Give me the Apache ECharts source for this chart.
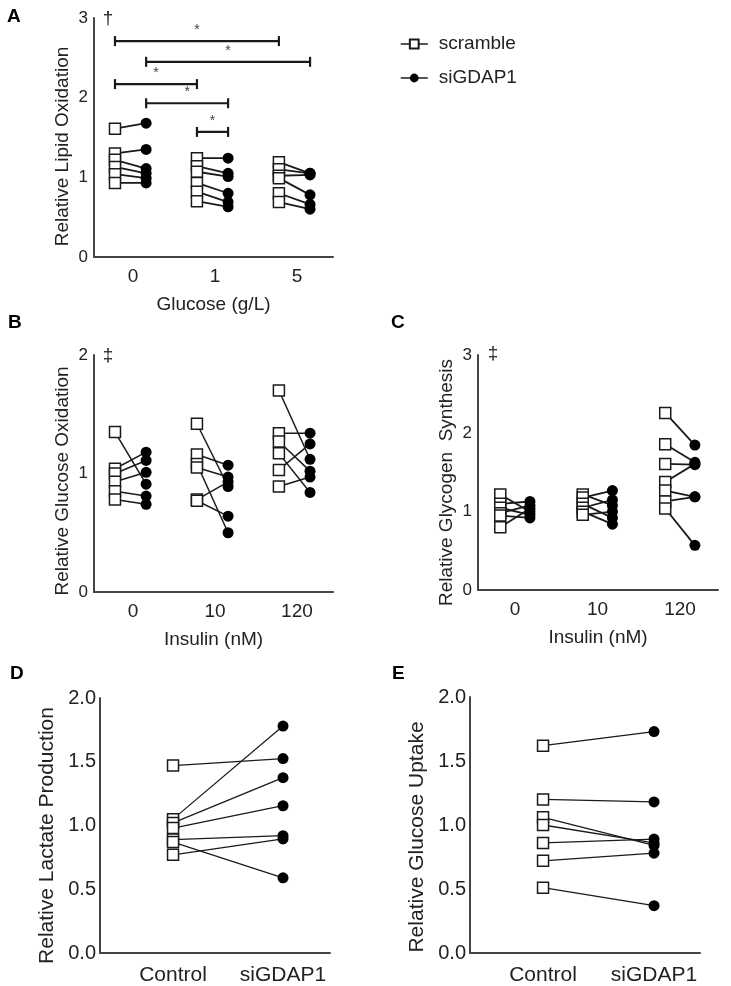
<!DOCTYPE html>
<html>
<head>
<meta charset="utf-8">
<script src="https://cdn.jsdelivr.net/npm/echarts@6/dist/echarts.min.js"></script>
<style>
html,body{margin:0;padding:0;background:#fff;}
#chart{width:731px;height:986px;}
</style>
</head>
<body>
<div id="chart"></div>
<script>
// ---------- DATA ----------
const glucoseLabels = ['0', '1', '5'];
const insulinLabels = ['0', '10', '120'];
const pairLabels = ['Control', 'siGDAP1'];

// Panel A: Relative Lipid Oxidation (paired by index within each glucose group)
const lipidScramble = [
  [1.61, 1.30, 1.22, 1.13, 1.04, 0.93],
  [1.24, 1.14, 1.07, 0.93, 0.82, 0.70],
  [1.19, 1.10, 1.02, 0.99, 0.80, 0.69]
];
const lipidSiGDAP1 = [
  [1.68, 1.35, 1.11, 1.05, 0.99, 0.93],
  [1.24, 1.05, 1.01, 0.80, 0.69, 0.63],
  [1.05, 1.05, 1.03, 0.78, 0.66, 0.60]
];
// significance brackets: [groupFrom, seriesFrom, groupTo, seriesTo, y]
const lipidBrackets = [
  [0, 'scramble', 2, 'scramble', 2.71],
  [0, 'siGDAP1', 2, 'siGDAP1', 2.45],
  [0, 'scramble', 1, 'scramble', 2.17],
  [0, 'siGDAP1', 1, 'siGDAP1', 1.93],
  [1, 'scramble', 1, 'siGDAP1', 1.57]
];

// Panel B: Relative Glucose Oxidation
const glucoseOxScramble = [
  [1.35, 1.04, 1.00, 0.93, 0.85, 0.78],
  [1.42, 1.16, 1.08, 1.05, 0.78, 0.77],
  [1.70, 1.34, 1.27, 1.17, 1.03, 0.89]
];
const glucoseOxSiGDAP1 = [
  [0.91, 1.18, 1.11, 1.01, 0.81, 0.74],
  [0.89, 1.07, 0.50, 0.97, 0.93, 0.64],
  [1.12, 1.34, 1.02, 0.84, 1.25, 0.97]
];

// Panel C: Relative Glycogen Synthesis
const glycogenScramble = [
  [1.22, 1.10, 1.05, 0.98, 0.95, 0.80],
  [1.22, 1.18, 1.10, 1.05, 1.00, 0.96],
  [2.26, 1.86, 1.61, 1.38, 1.27, 1.13, 1.04]
];
const glycogenSiGDAP1 = [
  [1.00, 1.13, 0.96, 1.08, 0.92, 1.04],
  [1.08, 1.27, 0.92, 1.15, 0.84, 1.00],
  [1.85, 1.63, 1.60, 1.61, 1.19, 1.19, 0.57]
];

// Panel D: Relative Lactate Production
const lactateControl = [1.47, 1.05, 1.02, 0.98, 0.89, 0.87, 0.77];
const lactateSiGDAP1 = [1.525, 1.78, 1.375, 1.155, 0.92, 0.59, 0.895];

// Panel E: Relative Glucose Uptake
const uptakeControl = [1.62, 1.20, 1.06, 1.00, 0.86, 0.72, 0.51];
const uptakeSiGDAP1 = [1.73, 1.18, 0.84, 0.86, 0.89, 0.78, 0.37];

// ---------- LAYOUT / STYLE ----------
const FONT = '"Liberation Sans", Arial, Helvetica, sans-serif';
const TXT = '#222';
const AXC = '#444';

const panels = [
  { grid: {left: 94, top: 18, width: 239, height: 239}, xmin: -0.476, xmax: 2.44, ymax: 3, yint: 1,
    labels: glucoseLabels, xname: 'Glucose (g/L)', yname: 'Relative Lipid Oxidation',
    scr: lipidScramble, si: lipidSiGDAP1, offS: -0.22, offC: 0.16, lw: 1.8, fs: 19, yfs: 17, ypad: 18, dec: 0 },
  { grid: {left: 94, top: 355, width: 239, height: 237}, xmin: -0.476, xmax: 2.44, ymax: 2, yint: 1,
    labels: insulinLabels, xname: 'Insulin (nM)', yname: 'Relative Glucose Oxidation',
    scr: glucoseOxScramble, si: glucoseOxSiGDAP1, offS: -0.22, offC: 0.16, lw: 1.5, fs: 19, yfs: 17, ypad: 15, dec: 0 },
  { grid: {left: 478, top: 355, width: 240, height: 235}, xmin: -0.45, xmax: 2.46, ymax: 3, yint: 1,
    labels: insulinLabels, xname: 'Insulin (nM)', yname: 'Relative Glycogen  Synthesis',
    scr: glycogenScramble, si: glycogenSiGDAP1, offS: -0.18, offC: 0.18, lw: 1.8, fs: 19, yfs: 17, ypad: 20, dec: 0 },
  { grid: {left: 100, top: 698, width: 230, height: 257}, xmin: -0.664, xmax: 1.427, ymax: 2, yint: 0.5,
    labels: pairLabels, xname: '', yname: 'Relative Lactate Production',
    scr: [lactateControl], si: [lactateSiGDAP1], offS: 0, offC: 1, lw: 1.3, fs: 21, yfs: 20, ypad: 20, dec: 1, pair: true },
  { grid: {left: 470, top: 697, width: 230, height: 258}, xmin: -0.658, xmax: 1.414, ymax: 2, yint: 0.5,
    labels: pairLabels, xname: '', yname: 'Relative Glucose Uptake',
    scr: [uptakeControl], si: [uptakeSiGDAP1], offS: 0, offC: 1, lw: 1.3, fs: 21, yfs: 20, ypad: 24, dec: 1, pair: true }
];

const grids = [], xAxes = [], yAxes = [], series = [];

panels.forEach((p, k) => {
  grids.push(Object.assign({containLabel: false}, p.grid));
  const customVals = p.labels.map((_, i) => i);
  xAxes.push({
    type: 'value', gridIndex: k, min: p.xmin, max: p.xmax,
    axisLine: {show: true, onZero: false, lineStyle: {color: AXC, width: 2}},
    axisTick: {show: false}, splitLine: {show: false},
    axisLabel: {customValues: customVals, formatter: v => p.labels[Math.round(v)],
      color: TXT, fontSize: p.fs, fontFamily: FONT, margin: p.pair ? 12 : 10},
    name: p.xname, nameLocation: 'middle', nameGap: 38,
    nameTextStyle: {color: TXT, fontSize: 19, fontFamily: FONT}
  });
  yAxes.push({
    type: 'value', gridIndex: k, min: 0, max: p.ymax, interval: p.yint,
    axisLine: {show: true, onZero: false, lineStyle: {color: AXC, width: 2}},
    axisTick: {show: false}, splitLine: {show: false},
    axisLabel: {color: TXT, fontSize: p.yfs, fontFamily: FONT, margin: p.pair ? 4 : 6,
      formatter: v => v.toFixed(p.dec)},
    name: p.yname, nameLocation: 'middle', nameGap: p.pair ? 42 : 22,
    nameTextStyle: {color: TXT, fontSize: p.pair ? 21 : 19, fontFamily: FONT, padding: [0, p.ypad, 0, 0]}
  });

  const pairs = [], sqPts = [], ciPts = [];
  p.scr.forEach((grp, g) => {
    grp.forEach((v, i) => {
      const xs = g + p.offS, xc = g + p.offC;
      const c = p.si[g][i];
      pairs.push([xs, v, xc, c]);
      sqPts.push([xs, v]);
      ciPts.push([xc, c]);
    });
  });

  series.push({
    type: 'custom', xAxisIndex: k, yAxisIndex: k, silent: true, z: 1,
    data: pairs, encode: {x: [0, 2], y: [1, 3]},
    renderItem: (params, api) => {
      const a = api.coord([api.value(0), api.value(1)]);
      const b = api.coord([api.value(2), api.value(3)]);
      return {type: 'line', shape: {x1: a[0], y1: a[1], x2: b[0], y2: b[1]},
        style: {stroke: '#1a1a1a', lineWidth: p.lw}};
    }
  });
  series.push({
    name: 'scramble', type: k === 0 ? 'line' : 'scatter', xAxisIndex: k, yAxisIndex: k, z: 3,
    data: sqPts, symbol: 'rect', symbolSize: 11, showAllSymbol: true, silent: true,
    lineStyle: {width: 0, opacity: 0},
    itemStyle: {color: '#fff', borderColor: '#1a1a1a', borderWidth: 1.5, opacity: 1}
  });
  series.push({
    name: 'siGDAP1', type: k === 0 ? 'line' : 'scatter', xAxisIndex: k, yAxisIndex: k, z: 3,
    data: ciPts, symbol: 'circle', symbolSize: 11, showAllSymbol: true, silent: true,
    lineStyle: {width: 0, opacity: 0},
    itemStyle: {color: '#000', borderColor: '#000', borderWidth: 0, opacity: 1}
  });

  if (k === 0) {
    const offMap = {scramble: p.offS, siGDAP1: p.offC};
    series.push({
      type: 'custom', xAxisIndex: 0, yAxisIndex: 0, silent: true, z: 2,
      data: lipidBrackets.map(b => [b[0] + offMap[b[1]], b[2] + offMap[b[3]], b[4]]),
      encode: {x: [0, 1], y: 2},
      renderItem: (params, api) => {
        const a = api.coord([api.value(0), api.value(2)]);
        const b = api.coord([api.value(1), api.value(2)]);
        const st = {stroke: '#1a1a1a', lineWidth: 2.2};
        return {type: 'group', children: [
          {type: 'line', shape: {x1: a[0], y1: a[1], x2: b[0], y2: b[1]}, style: st},
          {type: 'line', shape: {x1: a[0], y1: a[1] - 5, x2: a[0], y2: a[1] + 5}, style: st},
          {type: 'line', shape: {x1: b[0], y1: b[1] - 5, x2: b[0], y2: b[1] + 5}, style: st},
          {type: 'text', x: (a[0] + b[0]) / 2, y: a[1] - 4,
            style: {text: '*', fill: '#444', font: '14px ' + FONT, align: 'center', verticalAlign: 'bottom'}}
        ]};
      }
    });
  }
});

const letter = (t, x, y) => ({type: 'text', x: x, y: y,
  style: {text: t, fill: '#000', font: 'bold 19px ' + FONT}});
const mark = (t, x, y) => ({type: 'text', x: x, y: y,
  style: {text: t, fill: TXT, font: '19px ' + FONT, align: 'center', verticalAlign: 'middle'}});

const option = {
  animation: false,
  backgroundColor: '#fff',
  grid: grids, xAxis: xAxes, yAxis: yAxes, series: series,
  legend: {
    data: ['scramble', 'siGDAP1'], orient: 'vertical', left: 395, top: 29,
    itemWidth: 27, itemHeight: 11, itemGap: 14,
    textStyle: {color: TXT, fontSize: 19, fontFamily: FONT, lineHeight: 20, padding: [0, 0, 0, 6]},
    lineStyle: {width: 1.5, color: '#1a1a1a', opacity: 1},
    selectedMode: false
  },
  graphic: [
    letter('A', 7, 7), letter('B', 8, 313), letter('C', 391, 313),
    letter('D', 10, 664), letter('E', 392, 664),
    mark('†', 108, 19), mark('‡', 108, 356), mark('‡', 493, 354)
  ]
};

const chart = echarts.init(document.getElementById('chart'), null, {renderer: 'canvas'});
chart.setOption(option);
</script>
</body>
</html>
